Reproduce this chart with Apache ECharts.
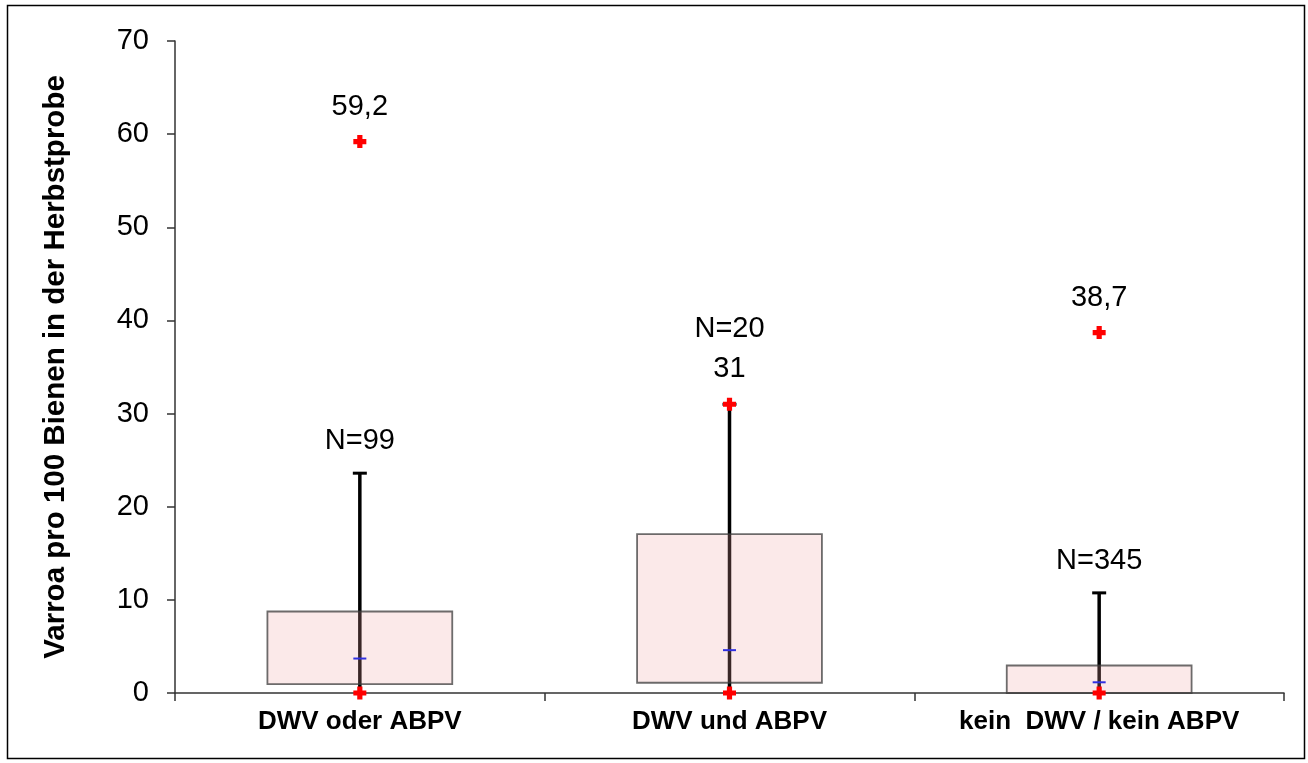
<!DOCTYPE html>
<html>
<head>
<meta charset="utf-8">
<script src="https://cdn.jsdelivr.net/npm/echarts@6/dist/echarts.min.js"></script>
<style>
  html, body { margin: 0; padding: 0; background: #fff; }
  #chart { width: 1308px; height: 763px; }
</style>
</head>
<body>
<div id="chart"></div>
<script>
// Werte
var categories = ['DWV oder ABPV', 'DWV und ABPV', 'kein  DWV / kein ABPV'];
var q1 = [0.95, 1.1, 0];
var q3 = [8.75, 17.05, 2.95];
var median = [3.7, 4.6, 1.15];
var whiskerLow = [0, 0, 0];
var whiskerHigh = [23.6, 31, 10.75];
var minVal = [0, 0, 0];
var maxVal = [59.2, 31, 38.7];
var nCount = [99, 20, 345];
var yTicks = [0, 10, 20, 30, 40, 50, 60, 70];

var fontName = '"Liberation Sans", Arial, sans-serif';

function fmt(v) { return String(v).replace('.', ','); }

var boxData = categories.map(function (c, i) {
  return [i, q1[i], q3[i], median[i], whiskerLow[i], whiskerHigh[i]];
});

var pointData = [];
categories.forEach(function (c, i) {
  pointData.push({ value: [i, minVal[i]], label: { show: false } });
  pointData.push({ value: [i, maxVal[i]], label: { show: true } });
});

// N-Beschriftung: ueber dem Whisker, bzw. ueber dem Maximum-Label wenn beide zusammenfallen
var nData = categories.map(function (c, i) {
  var stacked = maxVal[i] === whiskerHigh[i];
  return {
    value: [i, whiskerHigh[i]],
    label: { offset: [0, stacked ? -75 : -32] }
  };
});

function renderBox(params, api) {
  var idx = api.value(0);
  var band = api.size([1, 0])[0];
  var x = api.coord([idx, 0])[0];
  var pLow = api.coord([idx, api.value(4)]);
  var pHigh = api.coord([idx, api.value(5)]);
  var pQ1 = api.coord([idx, api.value(1)]);
  var pQ3 = api.coord([idx, api.value(2)]);
  var pMed = api.coord([idx, api.value(3)]);
  var bw = band * 0.5;
  var capW = 14;
  var medW = 13;
  return {
    type: 'group',
    children: [
      { type: 'line', shape: { x1: x, y1: pLow[1], x2: x, y2: pHigh[1] },
        style: { stroke: '#000', lineWidth: 3.5 } },
      { type: 'line', shape: { x1: x - capW / 2, y1: pHigh[1], x2: x + capW / 2, y2: pHigh[1] },
        style: { stroke: '#000', lineWidth: 3 } },
      { type: 'rect', shape: { x: x - bw / 2, y: pQ3[1], width: bw, height: pQ1[1] - pQ3[1] },
        style: { fill: 'rgba(240,165,165,0.24)', stroke: 'rgba(60,60,60,0.75)', lineWidth: 1.8 } },
      { type: 'line', shape: { x1: x - medW / 2, y1: pMed[1], x2: x + medW / 2, y2: pMed[1] },
        style: { stroke: '#3030e0', lineWidth: 2 } }
    ]
  };
}

var chart = echarts.init(document.getElementById('chart'));
chart.setOption({
  animation: false,
  backgroundColor: '#fff',
  grid: { left: 175, right: 24, top: 41, bottom: 70 },
  graphic: [{
    type: 'rect',
    shape: { x: 7.5, y: 5.5, width: 1297, height: 753 },
    style: { fill: 'none', stroke: '#000', lineWidth: 1.5 },
    silent: true
  }],
  xAxis: {
    type: 'category',
    data: categories,
    axisLine: { lineStyle: { color: '#333', width: 1.5 } },
    axisTick: { show: true, length: 8, lineStyle: { color: '#333', width: 1.5 } },
    axisLabel: {
      margin: 16, color: '#000', fontFamily: fontName,
      fontSize: 26, fontWeight: 'bold'
    },
    splitLine: { show: false }
  },
  yAxis: {
    type: 'value',
    min: yTicks[0],
    max: yTicks[yTicks.length - 1],
    interval: yTicks[1] - yTicks[0],
    name: 'Varroa pro 100 Bienen in der Herbstprobe',
    nameLocation: 'middle',
    nameRotate: 90,
    nameGap: 104,
    nameTextStyle: { color: '#000', fontFamily: fontName, fontSize: 29.5, fontWeight: 'bold' },
    axisLine: { show: true, lineStyle: { color: '#333', width: 1.5 } },
    axisTick: { show: true, length: 8, lineStyle: { color: '#333', width: 1.5 } },
    axisLabel: { margin: 26, color: '#000', fontFamily: fontName, fontSize: 29 },
    splitLine: { show: false }
  },
  series: [
    {
      type: 'custom',
      renderItem: renderBox,
      encode: { x: 0, y: [1, 2, 3, 4, 5] },
      data: boxData,
      z: 2
    },
    {
      type: 'scatter',
      data: pointData,
      symbol: 'path://M3,0H7V3H10V7H7V10H3V7H0V3H3Z',
      symbolSize: 13,
      itemStyle: { color: '#ff0000', opacity: 1 },
      label: {
        position: 'inside',
        offset: [0, -35],
        color: '#000',
        fontFamily: fontName,
        fontSize: 29,
        formatter: function (p) { return fmt(p.value[1]); }
      },
      z: 5
    },
    {
      type: 'scatter',
      data: nData,
      symbolSize: 0,
      itemStyle: { opacity: 1 },
      label: {
        show: true,
        position: 'inside',
        color: '#000',
        fontFamily: fontName,
        fontSize: 29,
        formatter: function (p) { return 'N=' + nCount[p.dataIndex]; }
      },
      z: 6
    }
  ]
});
</script>
</body>
</html>
